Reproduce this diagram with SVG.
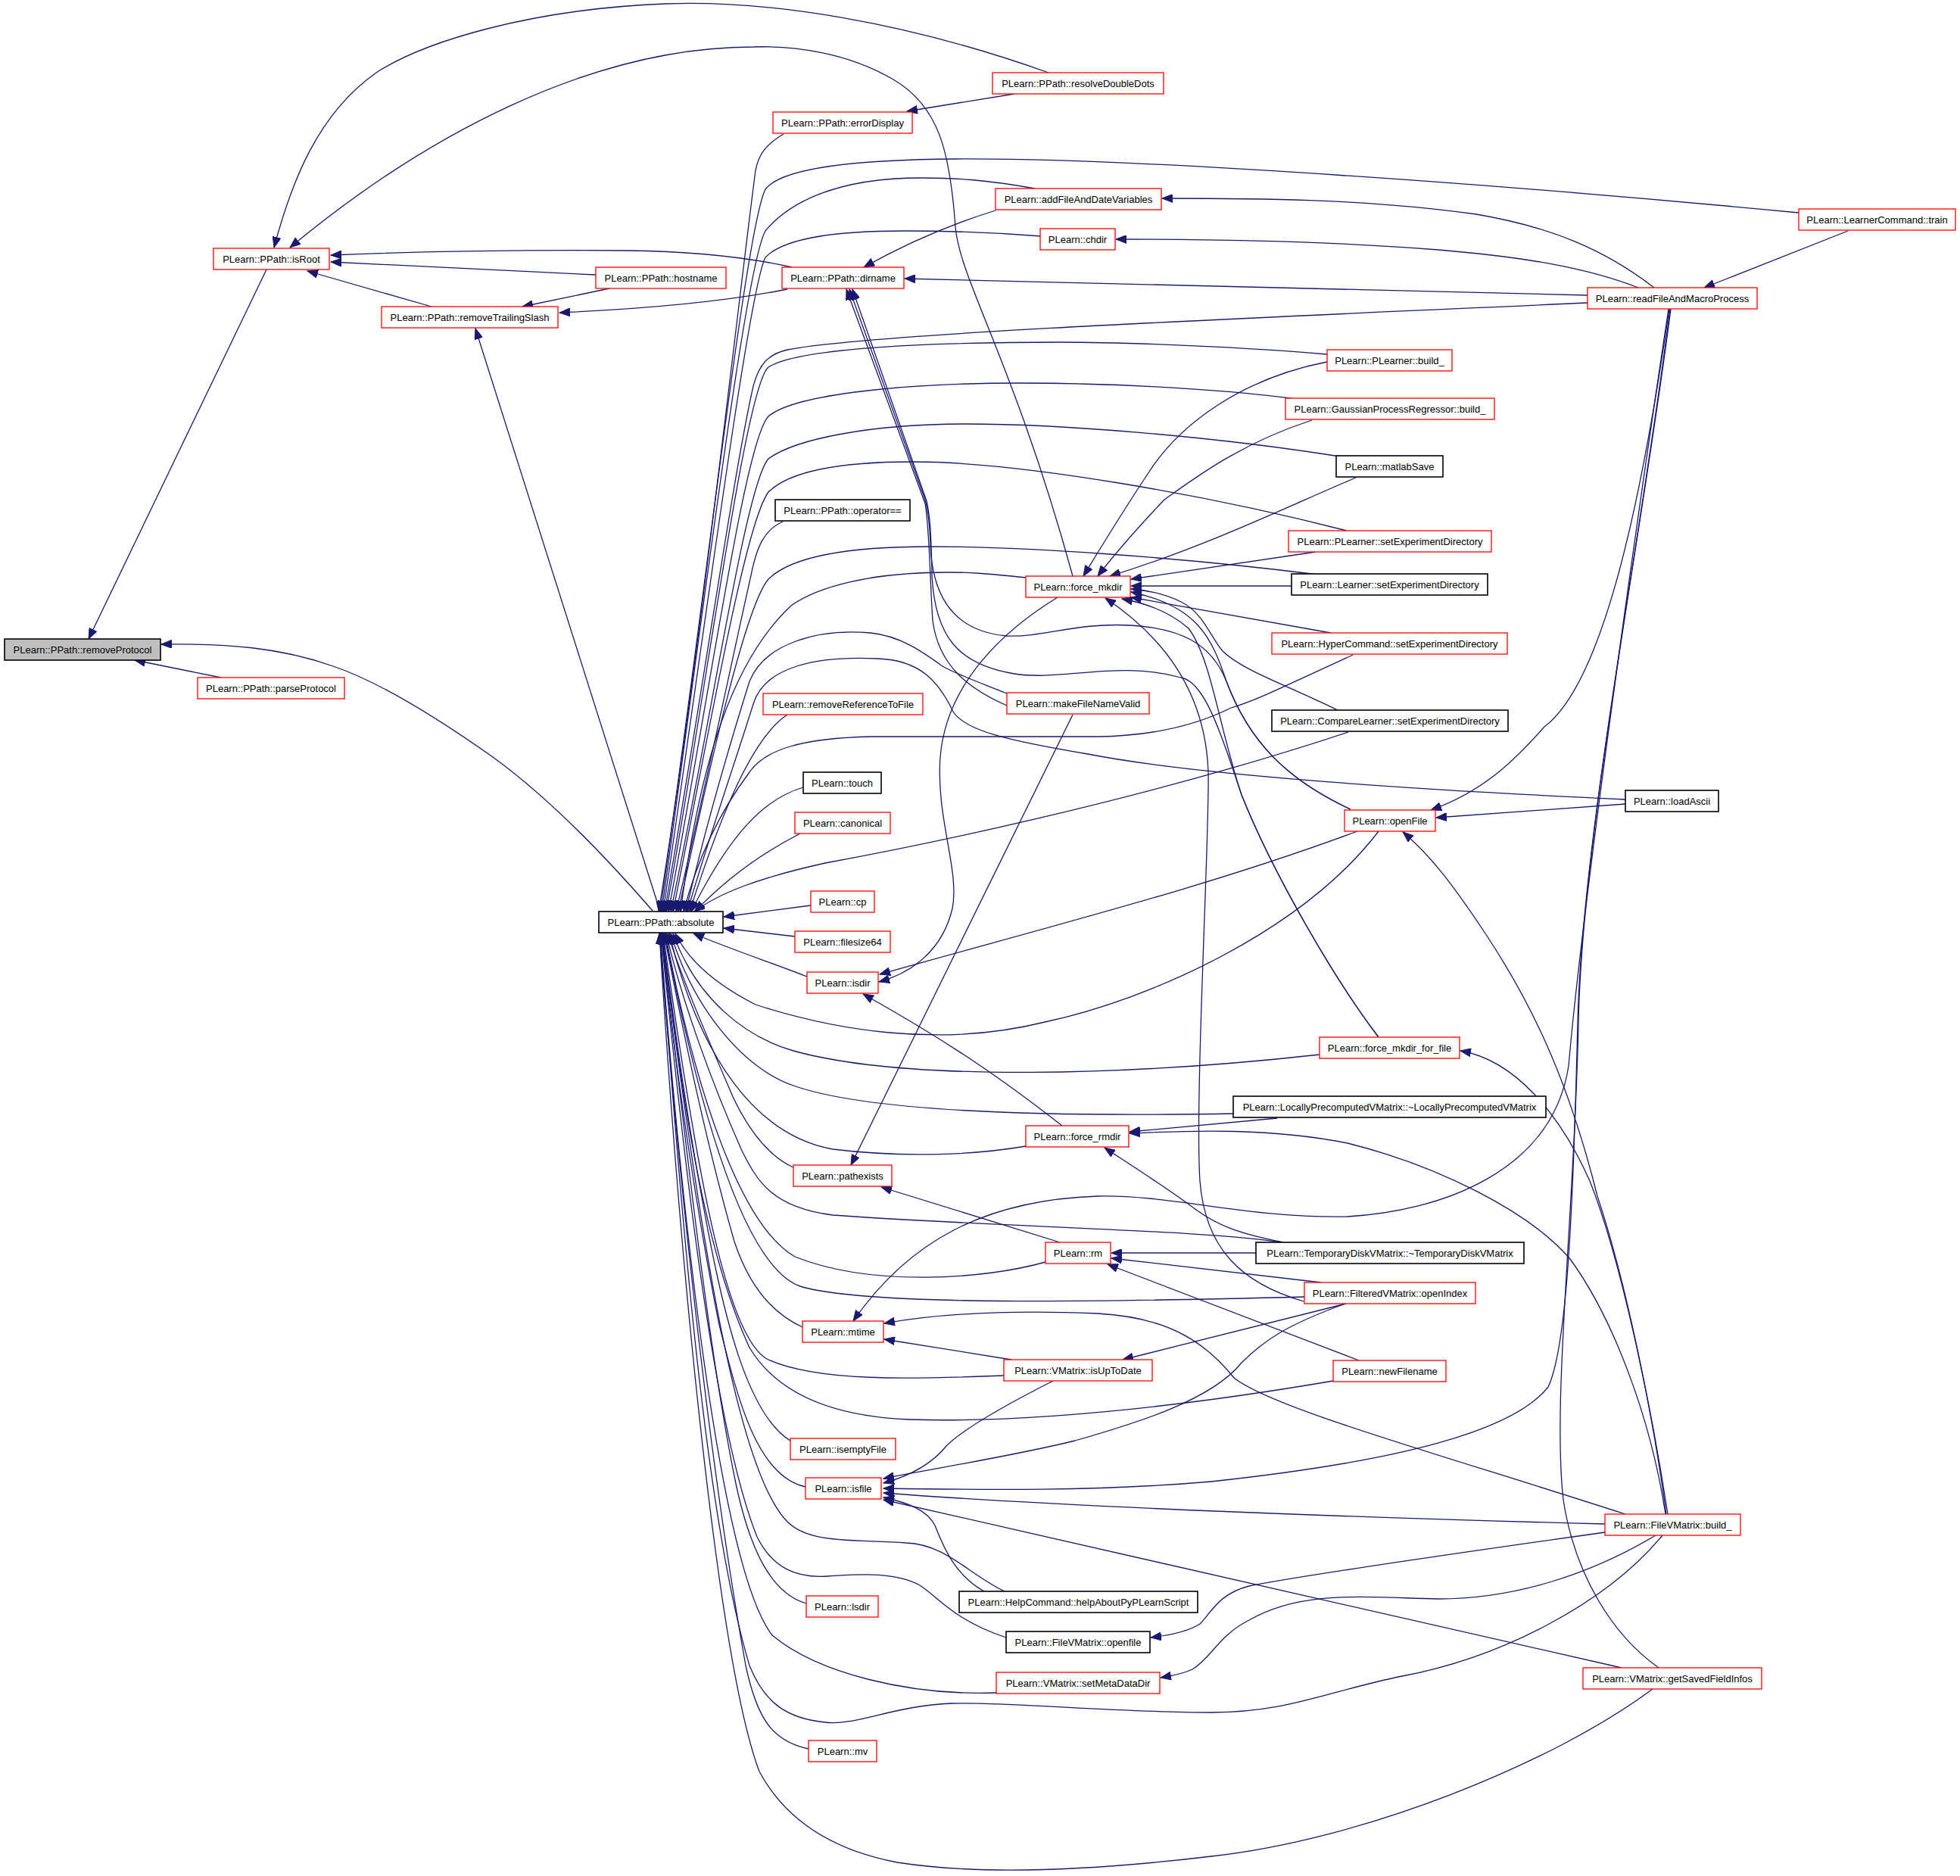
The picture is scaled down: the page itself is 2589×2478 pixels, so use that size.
<svg xmlns="http://www.w3.org/2000/svg" width="2589" height="2478" viewBox="0 0 2589 2478">
<style>
rect{fill:#fff;stroke:#ff0000;stroke-width:1.3}
.k rect{stroke:#000;stroke-width:1.6}
.g rect{fill:#bfbfbf;stroke:#000;stroke-width:1.6}
text{font-family:"Liberation Sans",Arial,sans-serif;font-size:13px;text-anchor:middle;fill:#000}
#edges path{fill:none;stroke:#191970;stroke-width:1.3;marker-end:url(#a)}
#edges path.na{marker-end:none}
</style>
<defs>
<marker id="a" markerUnits="userSpaceOnUse" markerWidth="15" markerHeight="11" refX="14" refY="5.5" orient="auto"><path d="M0,0 L14,5.5 L0,11 z" fill="#191970" stroke="#191970" stroke-width="1"/></marker>
</defs>
<rect x="0" y="0" width="2589" height="2478" style="fill:#fff;stroke:none"/>
<g id="edges">
<path d="M292,895 L178,872"/>
<path d="M352,356 L117,844"/>
<path d="M862,1203 C790,1120 720,1050 651,1000 C580,950 500,900 440,880 C370,855 300,850 213,851"/>
<path d="M1385,96 C1200,30 1020,0 879,5 C700,12 560,55 497,96 C420,150 385,240 362,327"/>
<path d="M1417,761 C1340,480 1268,370 1262,300 C1255,200 1240,140 1180,105 C1120,70 1050,60 995,62 C780,62 560,180 383,327"/>
<path d="M787,363 L437,346"/>
<path d="M570,405 L406,358"/>
<path d="M1046,353 C980,338 900,332 829,331 C700,330 560,332 437,337"/>
<path d="M805,381 L690,405"/>
<path d="M1040,382 C960,398 850,408 739,413"/>
<path d="M872,1204 L628,434"/>
<path d="M1340,124 L1198,147"/>
<path d="M1035,177 C1010,192 1002,205 998,225 C975,400 920,900 870,1204"/>
<path d="M2376,281 C2000,245 1500,208 1263,210 C1110,211 1030,225 1011,250 C985,300 930,800 872,1204"/>
<path d="M1367,249 C1300,237 1260,235 1217,235 C1100,235 1040,270 1011,305 C985,350 930,800 874,1204"/>
<path d="M1375,312 C1300,306 1240,305 1194,305 C1080,305 1030,320 1011,340 C990,380 935,800 876,1204"/>
<path d="M2097,400 C1700,418 1150,440 1040,462 C1015,468 1003,480 995,510 C970,620 930,900 878,1204"/>
<path d="M1753,468 C1600,455 1450,452 1401,452 C1200,452 1050,462 1015,485 C985,510 935,900 880,1204"/>
<path d="M1712,527 C1600,512 1450,506 1349,506 C1200,506 1050,520 1015,550 C985,580 940,900 883,1204"/>
<path d="M1770,603 C1600,576 1400,560 1275,560 C1150,560 1050,580 1015,606 C985,640 940,950 886,1204"/>
<path d="M1779,701 C1600,655 1350,610 1206,610 C1100,610 1040,625 1015,650 C985,690 940,950 889,1204"/>
<path d="M1034,689 C1010,700 1000,720 992,760 C965,880 930,1050 893,1204"/>
<path d="M1741,759 C1550,735 1350,722 1229,722 C1100,722 1040,740 1015,765 C985,800 940,1000 896,1204"/>
<path d="M1355,763 C1300,757 1280,756 1252,756 C1150,756 1080,775 1045,800 C970,870 925,1000 899,1204"/>
<path d="M1787,865 C1700,905 1660,925 1626,935 C1580,958 1520,972 1450,973 L1150,973 C1060,975 1010,990 990,1020 C960,1060 925,1120 903,1204"/>
<path d="M1781,967 C1500,1060 1200,1120 1090,1140 C1000,1160 950,1180 917,1204"/>
<path d="M1330,916 C1290,900 1262,890 1245,880 C1220,862 1190,840 1150,836 C1080,830 1010,850 990,900 C965,980 930,1100 906,1204"/>
<path d="M1040,944 C1000,970 960,1050 911,1204"/>
<path d="M2147,1056 C1800,1040 1560,1020 1437,996 C1330,978 1275,965 1259,940 C1240,900 1215,872 1160,870 C1080,866 1010,880 995,930 C970,1010 935,1110 908,1204"/>
<path d="M1061,1040 C1010,1055 965,1100 913,1204"/>
<path d="M1057,1101 C1010,1125 960,1160 918,1204"/>
<path d="M1071,1196 L956,1211"/>
<path d="M1050,1237 L956,1226"/>
<path d="M1066,1290 C1020,1272 960,1252 916,1233"/>
<path d="M1821,1098 C1720,1230 1520,1320 1380,1350 C1240,1385 1100,1360 998,1327 C945,1300 910,1270 892,1233"/>
<path d="M1743,1393 C1500,1420 1200,1430 1048,1388 C985,1370 920,1320 889,1233"/>
<path d="M1629,1471 C1400,1475 1150,1470 1048,1434 C980,1410 915,1330 886,1233"/>
<path d="M1355,1514 C1290,1525 1200,1530 1100,1518 C1000,1500 925,1400 884,1233"/>
<path d="M1048,1542 C1010,1525 980,1480 960,1430 C930,1360 900,1290 882,1233"/>
<path d="M1693,1641 C1600,1625 1300,1620 1100,1605 C1020,1595 1000,1560 980,1520 C940,1430 900,1320 880,1233"/>
<path d="M1381,1667 C1300,1690 1150,1700 1050,1660 C980,1620 920,1450 879,1233"/>
<path d="M1723,1713 C1450,1720 1150,1725 1060,1700 C990,1680 930,1500 878,1233"/>
<path d="M1060,1753 C1020,1735 990,1700 970,1640 C930,1500 900,1350 877,1233"/>
<path d="M1326,1817 C1200,1822 1080,1825 1015,1796 C960,1770 920,1550 876,1233"/>
<path d="M1761,1824 C1550,1860 1350,1880 1200,1875 C1080,1870 1020,1830 990,1780 C930,1650 900,1450 875,1233"/>
<path d="M1044,1903 C990,1870 960,1750 940,1650 C910,1500 890,1350 875,1233"/>
<path d="M1064,1964 C1000,1950 975,1850 950,1750 C920,1600 890,1400 874,1233"/>
<path d="M1327,2102 C1280,2080 1250,2040 1197,2038 C1130,2033 1070,2040 1040,2010 C970,1940 920,1600 874,1233"/>
<path d="M1065,2118 C1020,2105 990,2050 970,1950 C930,1750 900,1450 873,1233"/>
<path d="M1329,2163 C1260,2140 1240,2110 1215,2094 C1180,2075 1130,2080 1094,2082 C1050,2085 1020,2070 1000,2030 C940,1880 900,1500 873,1233"/>
<path d="M1316,2236 C1200,2240 1080,2210 1020,2160 C950,2070 900,1600 872,1233"/>
<path d="M2196,2028 C2120,2120 1980,2190 1852,2214 C1750,2235 1700,2262 1600,2262 C1480,2262 1330,2248 1257,2250 C1180,2253 1130,2280 1090,2275 C1040,2270 1010,2250 990,2200 C930,2000 900,1600 872,1233"/>
<path d="M1068,2310 C1020,2300 1000,2270 985,2200 C940,1950 900,1600 871,1233"/>
<path d="M2183,2231 C2050,2330 1800,2430 1600,2452 C1450,2470 1300,2478 1185,2460 C1080,2440 1030,2390 1003,2340 C950,2200 900,1700 871,1233"/>
<path d="M1315,278 C1260,295 1200,320 1141,353"/>
<path d="M2097,390 C1800,382 1500,375 1195,368"/>
<path d="M1330,932 C1280,910 1240,880 1232,820 C1228,760 1228,700 1222,665 L1118,382"/>
<path d="M1784,1069 C1700,1030 1650,980 1620,900 C1600,850 1560,830 1494,826 C1420,822 1380,842 1330,840 C1270,835 1232,800 1229,720 C1228,690 1226,675 1222,660 L1122,382"/>
<path d="M1821,1370 C1760,1290 1680,1150 1640,1050 C1610,960 1590,900 1560,895 C1480,872 1400,900 1340,890 C1265,878 1235,840 1231,760 C1230,700 1228,680 1224,662 L1126,382"/>
<path d="M2185,380 C2120,330 2050,300 1950,283 C1800,262 1650,262 1535,262"/>
<path d="M2164,380 C2100,355 2020,340 1900,330 C1750,318 1600,316 1474,316"/>
<path d="M2441,305 L2251,380"/>
<path d="M1753,478 C1640,500 1560,560 1520,620 C1480,680 1450,730 1431,761"/>
<path d="M1733,555 C1640,585 1580,630 1538,660 C1500,700 1470,735 1450,761"/>
<path d="M1791,631 C1720,660 1600,720 1466,761"/>
<path d="M1738,729 L1494,765"/>
<path d="M1706,774 L1494,774"/>
<path d="M1758,836 L1494,789"/>
<path d="M1767,938 C1700,905 1640,885 1615,860 C1598,840 1590,810 1560,795 C1540,785 1520,780 1494,778"/>
<path d="M1784,1069 C1700,1030 1650,980 1620,900 C1600,840 1580,800 1494,782"/>
<path d="M1821,1370 C1760,1290 1680,1150 1640,1050 C1610,960 1600,870 1570,830 C1545,808 1515,797 1482,791"/>
<path d="M1722,1719 C1640,1695 1592,1650 1585,1560 C1578,1450 1598,1100 1596,1020 C1592,900 1520,830 1460,790"/>
<path d="M2147,1062 L1897,1080"/>
<path d="M2205,408 C2170,650 2120,900 2040,960 C2000,1005 1960,1045 1890,1070"/>
<path d="M1793,1098 C1600,1170 1400,1220 1162,1287"/>
<path d="M1397,789 C1330,830 1250,900 1242,1000 C1236,1080 1268,1150 1258,1200 C1245,1255 1205,1285 1161,1297"/>
<path d="M1403,1487 C1330,1430 1260,1380 1140,1313"/>
<path d="M2203,2000 C2180,1850 2140,1660 2100,1560 C2060,1470 2000,1400 1929,1388"/>
<path d="M2201,2000 C2185,1880 2150,1700 2110,1580 C2070,1420 2020,1320 1960,1230 C1920,1170 1890,1130 1853,1099"/>
<path d="M1687,1477 L1492,1495"/>
<path d="M2200,2000 C2180,1870 2130,1740 2074,1663 C2020,1600 1900,1540 1780,1510 C1680,1490 1580,1493 1492,1497"/>
<path d="M1695,1641 C1640,1630 1610,1620 1580,1598 C1540,1568 1500,1543 1459,1516"/>
<path d="M1417,944 L1124,1539"/>
<path d="M1400,1641 L1164,1568"/>
<path d="M1659,1655 L1468,1655"/>
<path d="M1745,1694 L1468,1662"/>
<path d="M1795,1797 L1463,1670"/>
<path d="M1336,1796 L1168,1769"/>
<path d="M2147,2000 C1900,1920 1680,1860 1630,1820 C1590,1770 1540,1740 1450,1735 C1330,1730 1240,1735 1168,1748"/>
<path d="M2204,408 C2160,700 2090,1200 2072,1408 C2050,1550 1900,1600 1780,1607 C1650,1610 1550,1578 1450,1580 C1300,1585 1200,1640 1127,1745"/>
<path d="M1778,1722 L1483,1796"/>
<path d="M1391,1824 C1320,1860 1270,1890 1250,1910 C1230,1935 1200,1950 1167,1959"/>
<path d="M1777,1722 C1700,1750 1670,1770 1640,1800 C1600,1850 1500,1880 1420,1903 C1330,1925 1230,1940 1167,1953"/>
<path d="M2206,408 C2170,700 2090,1100 2084,1350 C2078,1600 2070,1780 2045,1832 C2000,1890 1850,1930 1600,1957 C1450,1970 1300,1968 1167,1966"/>
<path d="M2120,2013 C1800,2005 1400,1990 1167,1972"/>
<path d="M1300,2102 C1260,2080 1245,2040 1235,2015 C1225,1995 1200,1985 1167,1978"/>
<path d="M2142,2203 L1167,1981"/>
<path d="M2120,2024 C1900,2055 1700,2085 1650,2095 C1610,2105 1600,2130 1585,2145 C1570,2155 1545,2160 1520,2163"/>
<path d="M2187,2028 C2100,2080 2000,2112 1900,2112 C1800,2110 1720,2100 1650,2140 C1610,2160 1600,2190 1575,2205 C1560,2212 1545,2214 1533,2216"/>
<path class="na" d="M2207,408 C2170,700 2090,1100 2085,1350 C2080,1600 2050,1850 2065,1981 C2080,2080 2130,2160 2191,2203"/>
</g>
<g id="n_removeProtocol" class="g"><rect x="6" y="844" width="206" height="28"/><text x="109" y="863">PLearn::PPath::removeProtocol</text></g>
<g id="n_parseProtocol"><rect x="261" y="895" width="194" height="28"/><text x="358" y="914">PLearn::PPath::parseProtocol</text></g>
<g id="n_isRoot"><rect x="282" y="328" width="153" height="28"/><text x="358.5" y="347">PLearn::PPath::isRoot</text></g>
<g id="n_hostname"><rect x="787" y="353" width="172" height="28"/><text x="873" y="372">PLearn::PPath::hostname</text></g>
<g id="n_removeTrailingSlash"><rect x="504" y="405" width="233" height="28"/><text x="620.5" y="424">PLearn::PPath::removeTrailingSlash</text></g>
<g id="n_dirname"><rect x="1033" y="353" width="161" height="28"/><text x="1113.5" y="372">PLearn::PPath::dirname</text></g>
<g id="n_errorDisplay"><rect x="1021" y="148" width="184" height="28"/><text x="1113" y="167">PLearn::PPath::errorDisplay</text></g>
<g id="n_resolveDoubleDots"><rect x="1311" y="96" width="226" height="28"/><text x="1424" y="115">PLearn::PPath::resolveDoubleDots</text></g>
<g id="n_addFileAndDateVariables"><rect x="1315" y="249" width="219" height="28"/><text x="1424.5" y="268">PLearn::addFileAndDateVariables</text></g>
<g id="n_chdir"><rect x="1374" y="302" width="99" height="28"/><text x="1423.5" y="321">PLearn::chdir</text></g>
<g id="n_train"><rect x="2376" y="276" width="207" height="28"/><text x="2479.5" y="295">PLearn::LearnerCommand::train</text></g>
<g id="n_readFileAndMacroProcess"><rect x="2097" y="380" width="224" height="28"/><text x="2209" y="399">PLearn::readFileAndMacroProcess</text></g>
<g id="n_PLearner_build"><rect x="1753" y="462" width="165" height="28"/><text x="1835.5" y="481">PLearn::PLearner::build_</text></g>
<g id="n_GPR_build"><rect x="1698" y="526" width="276" height="28"/><text x="1836" y="545">PLearn::GaussianProcessRegressor::build_</text></g>
<g id="n_matlabSave" class="k"><rect x="1765" y="602" width="141" height="28"/><text x="1835.5" y="621">PLearn::matlabSave</text></g>
<g id="n_operatorEq" class="k"><rect x="1024" y="660" width="178" height="28"/><text x="1113" y="679">PLearn::PPath::operator==</text></g>
<g id="n_PLearner_setExp"><rect x="1702" y="701" width="268" height="28"/><text x="1836" y="720">PLearn::PLearner::setExperimentDirectory</text></g>
<g id="n_Learner_setExp" class="k"><rect x="1706" y="758" width="259" height="28"/><text x="1835.5" y="777">PLearn::Learner::setExperimentDirectory</text></g>
<g id="n_force_mkdir"><rect x="1355" y="761" width="138" height="28"/><text x="1424" y="780">PLearn::force_mkdir</text></g>
<g id="n_Hyper_setExp"><rect x="1680" y="836" width="311" height="28"/><text x="1835.5" y="855">PLearn::HyperCommand::setExperimentDirectory</text></g>
<g id="n_removeReferenceToFile"><rect x="1008" y="916" width="211" height="28"/><text x="1113.5" y="935">PLearn::removeReferenceToFile</text></g>
<g id="n_makeFileNameValid"><rect x="1330" y="915" width="188" height="28"/><text x="1424" y="934">PLearn::makeFileNameValid</text></g>
<g id="n_Compare_setExp" class="k"><rect x="1680" y="938" width="312" height="28"/><text x="1836" y="957">PLearn::CompareLearner::setExperimentDirectory</text></g>
<g id="n_touch" class="k"><rect x="1061" y="1020" width="103" height="28"/><text x="1112.5" y="1039">PLearn::touch</text></g>
<g id="n_loadAscii" class="k"><rect x="2147" y="1044" width="123" height="28"/><text x="2208.5" y="1063">PLearn::loadAscii</text></g>
<g id="n_openFile"><rect x="1776" y="1070" width="120" height="28"/><text x="1836" y="1089">PLearn::openFile</text></g>
<g id="n_canonical"><rect x="1050" y="1073" width="126" height="28"/><text x="1113" y="1092">PLearn::canonical</text></g>
<g id="n_cp"><rect x="1071" y="1177" width="84" height="28"/><text x="1113" y="1196">PLearn::cp</text></g>
<g id="n_absolute" class="k"><rect x="791" y="1204" width="164" height="28"/><text x="873" y="1223">PLearn::PPath::absolute</text></g>
<g id="n_filesize64"><rect x="1050" y="1230" width="126" height="28"/><text x="1113" y="1249">PLearn::filesize64</text></g>
<g id="n_isdir"><rect x="1066" y="1284" width="94" height="28"/><text x="1113" y="1303">PLearn::isdir</text></g>
<g id="n_force_mkdir_for_file"><rect x="1743" y="1370" width="185" height="28"/><text x="1835.5" y="1389">PLearn::force_mkdir_for_file</text></g>
<g id="n_LocallyPrecomputed" class="k"><rect x="1629" y="1448" width="413" height="28"/><text x="1835.5" y="1467">PLearn::LocallyPrecomputedVMatrix::~LocallyPrecomputedVMatrix</text></g>
<g id="n_force_rmdir"><rect x="1355" y="1487" width="136" height="28"/><text x="1423" y="1506">PLearn::force_rmdir</text></g>
<g id="n_pathexists"><rect x="1048" y="1539" width="130" height="28"/><text x="1113" y="1558">PLearn::pathexists</text></g>
<g id="n_rm"><rect x="1381" y="1641" width="86" height="28"/><text x="1424" y="1660">PLearn::rm</text></g>
<g id="n_TemporaryDisk" class="k"><rect x="1659" y="1641" width="354" height="28"/><text x="1836" y="1660">PLearn::TemporaryDiskVMatrix::~TemporaryDiskVMatrix</text></g>
<g id="n_openIndex"><rect x="1723" y="1694" width="226" height="28"/><text x="1836" y="1713">PLearn::FilteredVMatrix::openIndex</text></g>
<g id="n_mtime"><rect x="1060" y="1745" width="107" height="28"/><text x="1113.5" y="1764">PLearn::mtime</text></g>
<g id="n_isUpToDate"><rect x="1326" y="1796" width="196" height="28"/><text x="1424" y="1815">PLearn::VMatrix::isUpToDate</text></g>
<g id="n_newFilename"><rect x="1761" y="1797" width="149" height="28"/><text x="1835.5" y="1816">PLearn::newFilename</text></g>
<g id="n_isemptyFile"><rect x="1044" y="1900" width="139" height="28"/><text x="1113.5" y="1919">PLearn::isemptyFile</text></g>
<g id="n_isfile"><rect x="1064" y="1952" width="100" height="28"/><text x="1114" y="1971">PLearn::isfile</text></g>
<g id="n_FileVMatrix_build"><rect x="2120" y="2000" width="179" height="28"/><text x="2209.5" y="2019">PLearn::FileVMatrix::build_</text></g>
<g id="n_helpAbout" class="k"><rect x="1267" y="2102" width="315" height="28"/><text x="1424.5" y="2121">PLearn::HelpCommand::helpAboutPyPLearnScript</text></g>
<g id="n_lsdir"><rect x="1065" y="2108" width="95" height="28"/><text x="1112.5" y="2127">PLearn::lsdir</text></g>
<g id="n_FileVMatrix_openfile" class="k"><rect x="1329" y="2155" width="190" height="28"/><text x="1424" y="2174">PLearn::FileVMatrix::openfile</text></g>
<g id="n_setMetaDataDir"><rect x="1316" y="2209" width="216" height="28"/><text x="1424" y="2228">PLearn::VMatrix::setMetaDataDir</text></g>
<g id="n_getSavedFieldInfos"><rect x="2091" y="2203" width="236" height="28"/><text x="2209" y="2222">PLearn::VMatrix::getSavedFieldInfos</text></g>
<g id="n_mv"><rect x="1068" y="2299" width="90" height="28"/><text x="1113" y="2318">PLearn::mv</text></g>
</svg>
